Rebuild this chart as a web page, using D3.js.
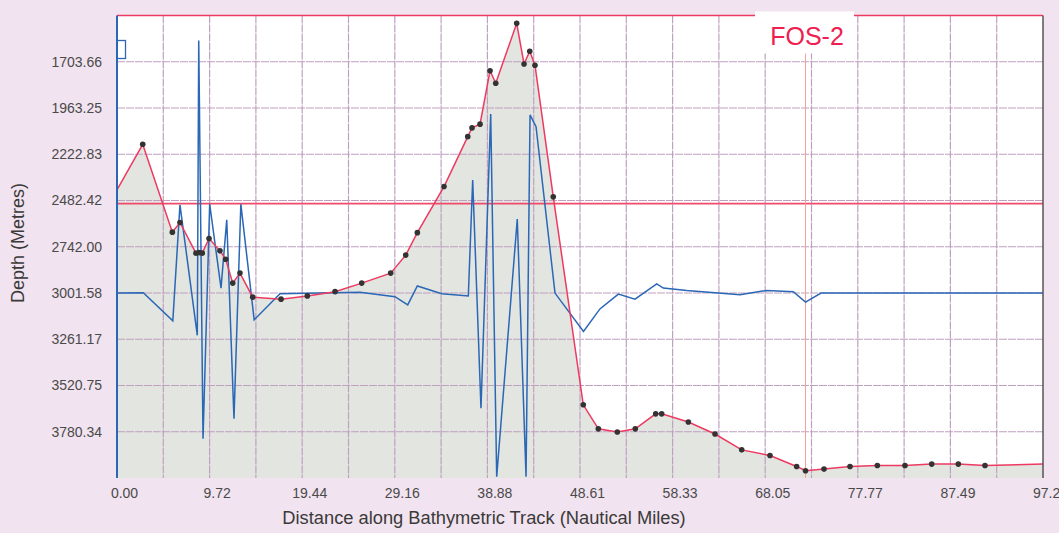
<!DOCTYPE html>
<html>
<head>
<meta charset="utf-8">
<script src="https://cdn.jsdelivr.net/npm/d3@7"></script>
<style>
  body { margin: 0; background: #f1e3ef; }
  svg { display: block; }
</style>
</head>
<body>
<div id="chart"></div>
<script>
// track profile (red line with dots) - distance in nautical miles, depth in metres
const profileDist = [0, 2.70, 5.81, 6.61, 8.29, 8.64, 8.95, 9.66, 10.81, 11.41, 12.15, 12.91, 14.25,
  17.22, 19.98, 22.89, 25.69, 28.73, 30.31, 31.53, 34.33, 36.82, 37.27, 38.11, 39.16, 39.76,
  41.96, 42.73, 43.33, 43.88, 45.80, 48.95, 50.53, 52.52, 54.41, 56.55, 57.18, 59.98, 62.78,
  65.58, 68.55, 71.35, 72.28, 74.22, 76.95, 79.82, 82.72, 85.53, 88.32, 91.12, 97.21]
const profileDepth = [2423, 2167, 2660, 2606, 2778, 2775, 2778, 2696, 2765, 2812, 2946, 2890, 3025,
  3036, 3018, 2994, 2946, 2890, 2789, 2663, 2404, 2124, 2075, 2054, 1754, 1824,
  1488, 1716, 1645, 1723, 2462, 3629, 3764, 3782, 3764, 3680, 3680, 3726, 3793,
  3882, 3914, 3975, 3999, 3990, 3975, 3970, 3970, 3962, 3962, 3970, 3962]

// second trace (blue line)
const traceDist = [0, 2.76, 5.86, 6.61, 8.43, 8.58, 9.03, 9.73, 10.92, 11.52, 12.28, 13.00, 14.40,
  17.11, 25.51, 29.18, 30.52, 31.53, 34.09, 36.88, 37.34, 38.21, 39.23, 39.86, 42.02, 42.94,
  43.36, 43.99, 45.98, 48.97, 50.70, 52.63, 54.38, 56.66, 57.35, 59.81, 65.40, 68.21, 71.00,
  72.28, 73.91, 97.21]
const traceDepth = [3001.6, 3000, 3158, 2507, 3239, 1585, 3820, 2502, 2974, 2591, 3707, 2503, 3152,
  3006, 2997, 3022, 3068, 2962, 3006, 3018, 2367, 3648, 1997, 4033, 2587, 4033,
  2002, 2068, 3002, 3218, 3091, 3008, 3036, 2950, 2974, 2988, 3012, 2987, 2994,
  3053, 3001.6, 3001.6]

// axis ticks
const xTicks = [0, 9.72, 19.44, 29.16, 38.88, 48.61, 58.33, 68.05, 77.77, 87.49, 97.21]
const yTicks = [1703.66, 1963.25, 2222.83, 2482.42, 2742.00, 3001.58, 3261.17, 3520.75, 3780.34]
const xDomain = [0, 97.21]
const yDomain = [1444.08, 4039.92]
const refDepth = 2500
const chartTitle = "FOS-2"

// chart dimensions
const margin = {top: 15.5, right: 16, bottom: 55, left: 117}
const W = 1059, H = 533
const width = W - margin.left - margin.right
const height = H - margin.top - margin.bottom
const font = "Arial, 'Liberation Sans', sans-serif"

const svgRoot = d3.select("#chart").append("svg")
  .attr("width", W)
  .attr("height", H)
  .style("font-family", font)

svgRoot.append("rect")
  .attr("width", W).attr("height", H)
  .attr("fill", "#f1e3ef")

const svg = svgRoot.append("g")
  .attr("transform", "translate(" + margin.left + "," + margin.top + ")")

// scales
const x = d3.scaleLinear().domain(xDomain).range([0, width])
const y = d3.scaleLinear().domain(yDomain).range([0, height])

// plot background
svg.append("rect")
  .attr("width", width).attr("height", height)
  .attr("fill", "#ffffff")

const profile = profileDist.map((d, i) => ({d: d, z: profileDepth[i]}))
const trace = traceDist.map((d, i) => ({d: d, z: traceDepth[i]}))

// shaded seabed
svg.append("path")
  .datum(profile)
  .attr("d", d3.area().x(p => x(p.d)).y0(height).y1(p => y(p.z)))
  .attr("fill", "#e3e5e1")

// gridlines (every half label step)
svg.selectAll("line.vgrid")
  .data(d3.range(1, 20).map(i => xDomain[1] * i / 20))
  .enter().append("line")
  .attr("class", "vgrid")
  .attr("x1", d => x(d)).attr("x2", d => x(d))
  .attr("y1", 0).attr("y2", height)
  .style("stroke", "#bfa0c0")
  .style("stroke-width", 1.2)
  .style("stroke-dasharray", "8 1")

svg.selectAll("line.hgrid")
  .data(yTicks)
  .enter().append("line")
  .attr("class", "hgrid")
  .attr("x1", 0).attr("x2", width)
  .attr("y1", d => y(d)).attr("y2", d => y(d))
  .style("stroke", "#bfa0c0")
  .style("stroke-width", 1.2)
  .style("stroke-dasharray", "8 1")

// reference depth line
svg.append("line")
  .attr("x1", 0).attr("x2", width)
  .attr("y1", y(refDepth)).attr("y2", y(refDepth))
  .style("stroke", "#f04a6a")
  .style("stroke-width", 1.6)

// marker at deepest point
const deepest = profile[d3.maxIndex(profile, p => p.z)]
svg.append("line")
  .attr("x1", x(deepest.d)).attr("x2", x(deepest.d))
  .attr("y1", 0).attr("y2", height)
  .style("stroke", "#f2a48e")
  .style("stroke-width", 1)

// blue trace
svg.append("path")
  .datum(trace)
  .attr("d", d3.line().x(p => x(p.d)).y(p => y(p.z)))
  .attr("fill", "none")
  .style("stroke", "#2a67b5")
  .style("stroke-width", 1.5)

// red profile
svg.append("path")
  .datum(profile)
  .attr("d", d3.line().x(p => x(p.d)).y(p => y(p.z)))
  .attr("fill", "none")
  .style("stroke", "#ec3a60")
  .style("stroke-width", 1.5)

svg.selectAll("circle.pt")
  .data(profile.slice(1, -1))
  .enter().append("circle")
  .attr("class", "pt")
  .attr("cx", p => x(p.d))
  .attr("cy", p => y(p.z))
  .attr("r", 2.8)
  .attr("fill", "#333333")

// frame: red top, dark right, blue left
svg.append("line")
  .attr("x1", 0).attr("x2", width).attr("y1", 0).attr("y2", 0)
  .style("stroke", "#ec3a60").style("stroke-width", 1.5)
svg.append("line")
  .attr("x1", width).attr("x2", width).attr("y1", 0).attr("y2", height)
  .style("stroke", "#555555").style("stroke-width", 1.5)
svg.append("line")
  .attr("x1", 0).attr("x2", 0).attr("y1", 0).attr("y2", height)
  .style("stroke", "#2a67b5").style("stroke-width", 2)
svg.append("rect")
  .attr("x", 0).attr("y", 25).attr("width", 8.5).attr("height", 18)
  .attr("fill", "none")
  .style("stroke", "#2a67b5").style("stroke-width", 1.3)

// axes
const xAxis = d3.axisBottom(x)
  .tickValues(xTicks)
  .tickFormat(d3.format(".2f"))
  .tickSize(0)
  .tickPadding(10)
const yAxis = d3.axisLeft(y)
  .tickValues(yTicks)
  .tickFormat(d3.format(".2f"))
  .tickSize(0)
  .tickPadding(15)

svg.append("g")
  .attr("class", "x axis")
  .attr("transform", "translate(0," + height + ")")
  .call(xAxis)
  .call(g => g.select(".domain").remove())
  .selectAll("text")
  .attr("dx", 7)
  .style("font-size", "14px")
  .style("font-family", font)
  .style("fill", "#4a4a4a")

svg.append("g")
  .attr("class", "y axis")
  .call(yAxis)
  .call(g => g.select(".domain").remove())
  .selectAll("text")
  .style("font-size", "14px")
  .style("font-family", font)
  .style("fill", "#4a4a4a")

// axis titles
svg.append("text")
  .attr("x", 484 - margin.left)
  .attr("y", height + 46)
  .style("text-anchor", "middle")
  .style("font-size", "18.3px")
  .style("fill", "#3a3a3a")
  .text("Distance along Bathymetric Track (Nautical Miles)")

svg.append("text")
  .attr("transform", "translate(" + (-93) + "," + (243 - margin.top) + ") rotate(-90)")
  .style("text-anchor", "middle")
  .style("font-size", "18px")
  .style("fill", "#3a3a3a")
  .text("Depth (Metres)")

// title box
svg.append("rect")
  .attr("x", 638).attr("y", -4)
  .attr("width", 99).attr("height", 42)
  .attr("fill", "#ffffff")
svg.append("text")
  .attr("x", 690)
  .attr("y", 29)
  .style("text-anchor", "middle")
  .style("font-size", "25px")
  .style("fill", "#ee2050")
  .text(chartTitle)
</script>
</body>
</html>
